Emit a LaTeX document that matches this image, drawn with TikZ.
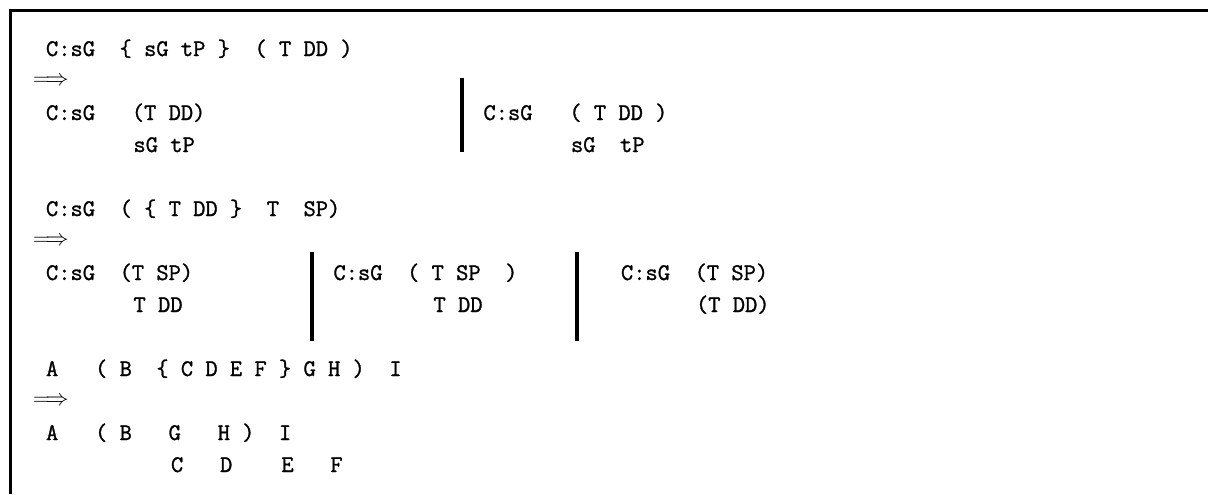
\documentclass[tikz,border=0pt]{standalone}
\usepackage{fontspec}
\setmonofont{Latin Modern Mono}[FakeBold=1.2]
\begin{document}
\begin{tikzpicture}[x=0.75pt,y=-0.75pt,
  mono/.style={inner sep=0pt, outer sep=0pt, anchor=base west, font=\fontsize{17.86}{24}\selectfont\ttfamily},
  impl/.style={inner sep=0pt, outer sep=0pt, anchor=west, font=\fontsize{17}{20}\selectfont},
  frameline/.style={line width=2.25pt, black},
  sepbar/.style={line width=2.4pt, black}]
\useasboundingbox (0,0) rectangle (1208,494);
% frame (open at right and bottom, as cropped)
\draw[frameline] (10,494) -- (10,10) -- (1208,10);
% column grid: col c at x = 46 + 12.5 c ; row k centre at y = 49 + 32 k, baseline +7
% ---------- block 1 ----------
\node[mono] (l1) at (46,56) {C:sG~~\{~sG~tP~\}~~(~T~DD~)};
\node[impl] (a1) at (33,81) {$\Longrightarrow$};
\node[mono] (r1la) at (46,120) {C:sG~~~(T~DD)};
\node[mono] (r1lb) at (133.5,152) {sG~tP};
\coordinate (b1t) at (462,78);
\coordinate (b1b) at (462,152);
\draw[sepbar] (b1t) -- (b1b);
\node[mono] (r1ra) at (483.5,120) {C:sG~~~(~T~DD~)};
\node[mono] (r1rb) at (571,152) {sG~~tP};
% ---------- block 2 ----------
\node[mono] (l2) at (46,216) {C:sG~~(~\{~T~DD~\}~~T~~SP)};
\node[impl] (a2) at (33,241) {$\Longrightarrow$};
\node[mono] (r2la) at (46,280) {C:sG~~(T~SP)};
\node[mono] (r2lb) at (133.5,312) {T~DD};
\coordinate (b2t) at (312,252);
\coordinate (b2b) at (312,341);
\draw[sepbar] (b2t) -- (b2b);
\node[mono] (r2ma) at (333.5,280) {C:sG~~(~T~SP~~)};
\node[mono] (r2mb) at (433.5,312) {T~DD};
\coordinate (b3t) at (577,252);
\coordinate (b3b) at (577,341);
\draw[sepbar] (b3t) -- (b3b);
\node[mono] (r2ra) at (621,280) {C:sG~~(T~SP)};
\node[mono] (r2rb) at (696,312) {(T~DD)};
% ---------- block 3 ----------
\node[mono] (l3) at (46,376) {A~~~(~B~~\{~C~D~E~F~\}~G~H~)~~I};
\node[impl] (a3) at (33,401) {$\Longrightarrow$};
\node[mono] (r3a) at (46,440) {A~~~(~B~~~G~~~H~)~~I};
\node[mono] (r3b) at (171,472) {C~~~D~~~~E~~~F};
\end{tikzpicture}
\end{document}
